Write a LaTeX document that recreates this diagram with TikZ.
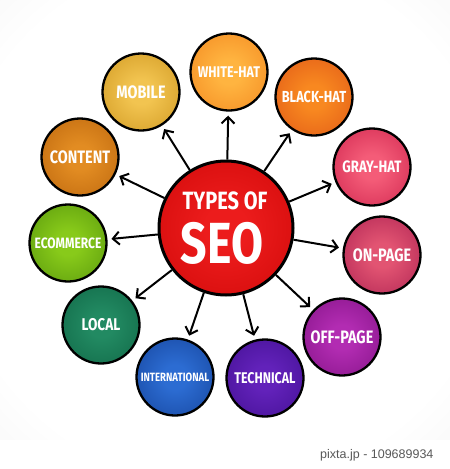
\documentclass[tikz,border=0pt]{standalone}
\usepackage{fontspec}
\newfontfamily\handfont{Fira Sans}[FakeStretch=0.8]
\newfontfamily\creditfont{Liberation Sans}
\usepackage{tikz}
\usetikzlibrary{arrows.meta}
% bubble colours: inner glow / rim
\definecolor{seoin}{RGB}{236,28,28}
\definecolor{seoout}{RGB}{196,0,0}
\definecolor{mobin}{RGB}{242,196,80}
\definecolor{mobout}{RGB}{192,132,12}
\definecolor{whtin}{RGB}{255,180,64}
\definecolor{whtout}{RGB}{238,118,18}
\definecolor{blkin}{RGB}{248,136,32}
\definecolor{blkout}{RGB}{214,68,18}
\definecolor{gryin}{RGB}{244,92,120}
\definecolor{gryout}{RGB}{192,14,60}
\definecolor{onin}{RGB}{226,84,114}
\definecolor{onout}{RGB}{152,14,68}
\definecolor{offin}{RGB}{178,44,178}
\definecolor{offout}{RGB}{112,8,116}
\definecolor{tecin}{RGB}{98,34,186}
\definecolor{tecout}{RGB}{54,8,130}
\definecolor{intin}{RGB}{44,108,210}
\definecolor{intout}{RGB}{12,52,134}
\definecolor{locin}{RGB}{34,138,98}
\definecolor{locout}{RGB}{8,88,58}
\definecolor{ecoin}{RGB}{136,202,26}
\definecolor{ecoout}{RGB}{68,130,6}
\definecolor{conin}{RGB}{226,140,34}
\definecolor{conout}{RGB}{172,86,4}
\colorlet{inC}{white}
\colorlet{outC}{black}
\pgfdeclareradialshading[inC,outC]{glow}{\pgfpoint{0bp}{0bp}}{color(0bp)=(inC); color(8bp)=(inC); color(50bp)=(outC)}
\pgfdeclareradialshading{backglow}{\pgfpoint{0bp}{0bp}}{color(0bp)=(white); color(30bp)=(white); color(72bp)=(black!14)}

\begin{document}
\begin{tikzpicture}[
  x=1pt, y=-1pt,
  bubble/.style 2 args={
    circle,
    draw=black,
    line width=2.3pt,
    minimum size=77pt,
    inner sep=0pt,
    /utils/exec={\colorlet{inC}{#1}\colorlet{outC}{#2}},
    shading=glow,
    text=white
    },
  fs/.style={font=\handfont\bfseries\fontsize{#1}{#1}\selectfont},
  arr/.style={
    -{Straight Barb[length=6.5pt,width=13pt]},
    line width=2pt,
    shorten >=4pt
    }
]

\useasboundingbox (0,0) rectangle (450,469);
\shade[shading=backglow] (0,0) rectangle (450,440);
\fill[white] (0,440) rectangle (450,469);

\node[bubble={seoin}{seoout}, minimum size=134pt, line width=3pt] (seo) at (226,228) {};
\node[fs=25, text=white, inner sep=0pt] (typesof) at (225,201) {TYPES OF};
\node[fs=58, text=white, inner sep=0pt] (seoword) at (222,243) {SEO};

\node[bubble={mobin}{mobout}, fs=18] (mobile) at (141,92) {MOBILE};
\node[bubble={whtin}{whtout}, fs=15.5] (whitehat) at (229,72) {WHITE-HAT};
\node[bubble={blkin}{blkout}, fs=16] (blackhat) at (314,97) {BLACK-HAT};
\node[bubble={gryin}{gryout}, fs=16.5] (grayhat) at (372,167) {GRAY-HAT};
\node[bubble={onin}{onout}, fs=18] (onpage) at (382,255) {ON-PAGE};
\node[bubble={offin}{offout}, fs=18] (offpage) at (342,337) {OFF-PAGE};
\node[bubble={tecin}{tecout}, fs=15.5] (technical) at (265,378) {TECHNICAL};
\node[bubble={intin}{intout}, fs=12] (international) at (175,377) {INTERNATIONAL};
\node[bubble={locin}{locout}, fs=17] (local) at (101,325) {LOCAL};
\node[bubble={ecoin}{ecoout}, fs=15] (ecommerce) at (68,243) {ECOMMERCE};
\node[bubble={conin}{conout}, fs=18] (content) at (80,157) {CONTENT};

\foreach \Kind in {mobile, whitehat, blackhat, grayhat, onpage, offpage, technical, international, local, ecommerce, content}
  \draw[arr] (seo) -- (\Kind);

\node[anchor=east, font=\creditfont\fontsize{12.5}{12.5}\selectfont, text=black!65] (credit) at (437,455) {pixta.jp - 109689934};

\end{tikzpicture}
\end{document}
